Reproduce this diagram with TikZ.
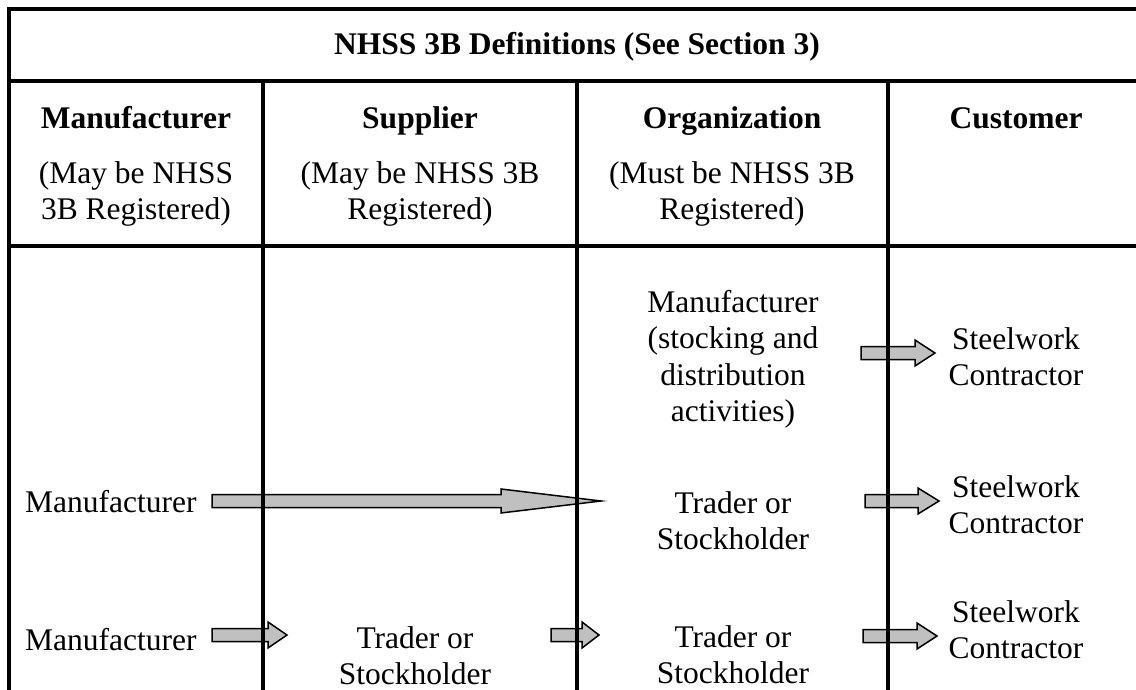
\documentclass[tikz,border=0pt]{standalone}
\usepackage{fontspec}
\setmainfont{Liberation Serif}
\usetikzlibrary{calc}
\definecolor{arrowgray}{RGB}{192,192,192}
\newcommand\blockarrow[4]{%
  \draw[barrow] ($(#1)+(0,-6.5)$) -- ($(#2)+(-#3,-6.5)$) -- ($(#2)+(-#3,-#4)$) -- (#2)
    -- ($(#2)+(-#3,#4)$) -- ($(#2)+(-#3,6.5)$) -- ($(#1)+(0,6.5)$) -- cycle;}
\begin{document}
\begin{tikzpicture}[x=1pt,y=-1pt,
  txt/.style={font=\fontsize{31.5}{36.5}\selectfont, inner sep=0pt, align=center},
  hd/.style={font=\fontsize{31.5}{36.5}\selectfont\bfseries, inner sep=0pt, align=center},
  barrow/.style={draw=black, line width=1.5pt, fill=arrowgray, line join=miter},
  rule/.style={line width=4pt}]
\useasboundingbox (0,0) rectangle (1136,690);
% arrows
\coordinate (a1s) at (861,353); \coordinate (a1t) at (935,353);
\coordinate (a2s) at (212,501); \coordinate (a2t) at (601,501);
\coordinate (a2bs) at (865,501); \coordinate (a2bt) at (939,501);
\coordinate (a3as) at (212,635); \coordinate (a3at) at (287,635);
\coordinate (a3bs) at (551,635); \coordinate (a3bt) at (599,635);
\coordinate (a3cs) at (863,636); \coordinate (a3ct) at (937,636);
\blockarrow{a1s}{a1t}{20}{13}
\blockarrow{a2s}{a2t}{100}{12}
\blockarrow{a2bs}{a2bt}{21}{13}
\blockarrow{a3as}{a3at}{19}{13}
\blockarrow{a3bs}{a3bt}{17}{13}
\blockarrow{a3cs}{a3ct}{20}{13}
% table rules
\draw[rule] (7,9) -- (1136,9);
\draw[rule] (9,7) -- (9,690);
\draw[rule] (9,81) -- (1136,81);
\draw[rule] (9,246) -- (1136,246);
\draw[rule] (263,81) -- (263,690);
\draw[rule] (577,81) -- (577,690);
\draw[rule] (888,81) -- (888,690);
% texts (base anchor = baseline of the last line)
\node[hd, anchor=base] (title) at (577,55) {NHSS 3B Definitions (See Section 3)};
\node[hd, anchor=base] (h1) at (136,129) {Manufacturer};
\node[hd, anchor=base] (h2) at (420,129) {Supplier};
\node[hd, anchor=base] (h3) at (732,129) {Organization};
\node[hd, anchor=base] (h4) at (1016,129) {Customer};
\node[txt, anchor=base] (s1) at (136,219.5) {(May be NHSS\\3B Registered)};
\node[txt, anchor=base] (s2) at (420,219.5) {(May be NHSS 3B\\Registered)};
\node[txt, anchor=base] (s3) at (732,219.5) {(Must be NHSS 3B\\Registered)};
\node[txt, anchor=base] (o1) at (733,421.5) {Manufacturer\\(stocking and\\distribution\\activities)};
\node[txt, anchor=base] (c1) at (1016,385.5) {Steelwork\\Contractor};
\node[txt, anchor=base west] (m2) at (25,512) {Manufacturer};
\node[txt, anchor=base] (o2) at (733,549.5) {Trader or\\Stockholder};
\node[txt, anchor=base] (c2) at (1016,533.5) {Steelwork\\Contractor};
\node[txt, anchor=base west] (m3) at (25,650) {Manufacturer};
\node[txt, anchor=base] (t3) at (415,684.5) {Trader or\\Stockholder};
\node[txt, anchor=base] (o3) at (733,683.5) {Trader or\\Stockholder};
\node[txt, anchor=base] (c3) at (1016,658.5) {Steelwork\\Contractor};
\end{tikzpicture}
\end{document}
